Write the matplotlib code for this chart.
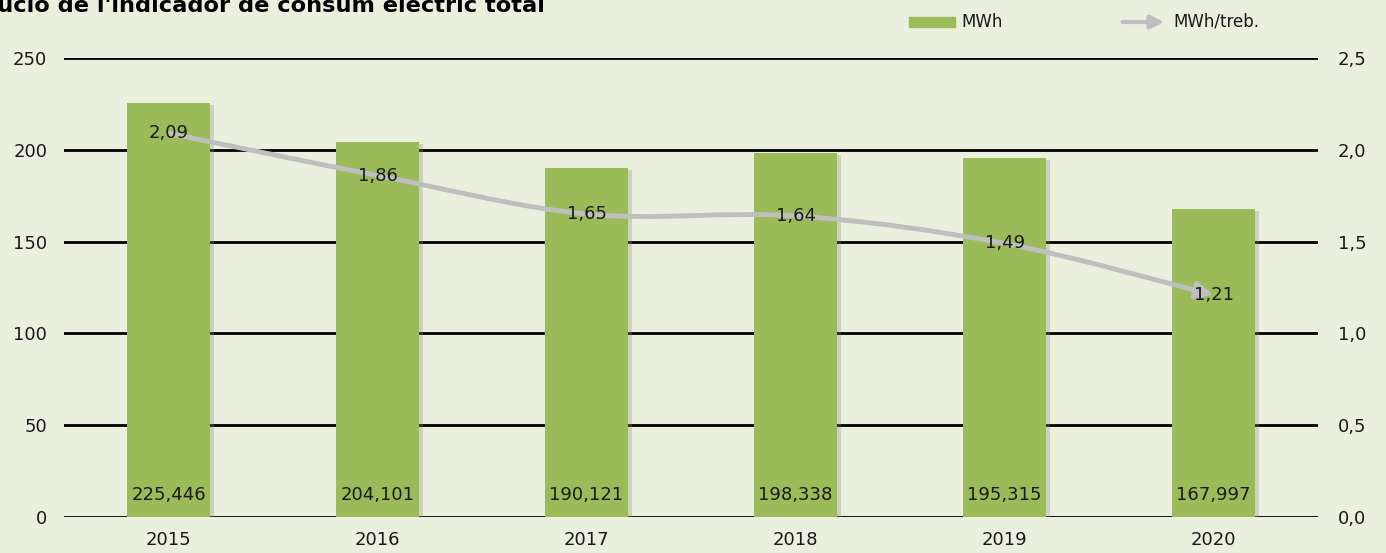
import matplotlib
matplotlib.use("Agg")
import matplotlib.pyplot as plt
from matplotlib.path import Path
from matplotlib.patches import FancyArrowPatch, Rectangle
import matplotlib.patheffects as pe

# Dades
anys = ["2015", "2016", "2017", "2018", "2019", "2020"]
mwh = [225.446, 204.101, 190.121, 198.338, 195.315, 167.997]
mwh_treb = [2.09, 1.86, 1.65, 1.64, 1.49, 1.21]
ticks_esq = [0, 50, 100, 150, 200, 250]
ticks_dre = [0.0, 0.5, 1.0, 1.5, 2.0, 2.5]

FONS = "#EBF0DE"
VERD = "#9BBB59"
GRIS = "#BFBFBF"
TEXT = "#1a1a1a"

fig = plt.figure(figsize=(13.86, 5.53), dpi=100, facecolor=FONS)
ax = fig.add_axes([0.0462, 0.0651, 0.9048, 0.83])
ax.set_facecolor(FONS)
x = list(range(len(anys)))

# barres amb ombra
barres = ax.bar(x, mwh, width=0.4, color=VERD, zorder=2)
for b in barres:
    b.set_path_effects([pe.SimplePatchShadow(offset=(2.5, -1.5), shadow_rgbFace="#8a8a8a", alpha=0.3), pe.Normal()])

ax.set_xlim(-0.5, 5.5)
ax.set_ylim(0, 250)
ax.set_yticks(ticks_esq)
ax.set_yticklabels([str(t) for t in ticks_esq], fontsize=13, color=TEXT)
ax.set_xticks(x)
ax.set_xticklabels(anys, fontsize=13, color=TEXT)
ax.tick_params(length=0, pad=10)
ax.tick_params(axis="y", pad=12)
for s in ax.spines.values():
    s.set_visible(False)
ax.set_axisbelow(True)
ax.grid(axis="y", color="black", lw=2)
ax.grid(axis="x", visible=False)

for xi, v in zip(x, mwh):
    ax.text(xi, 7, f"{v:.3f}".replace(".", ","), ha="center", va="bottom",
            fontsize=13, color=TEXT, zorder=5)

# eix dret
ax2 = ax.twinx()
ax2.set_ylim(0, 2.5)
ax2.set_yticks(ticks_dre)
ax2.set_yticklabels([f"{t:.1f}".replace(".", ",") for t in ticks_dre], fontsize=13, color=TEXT)
ax2.tick_params(length=0, pad=14)
for s in ax2.spines.values():
    s.set_visible(False)

# línia suavitzada (Catmull-Rom -> Bezier)
pts = list(zip(x, mwh_treb))
verts = [pts[0]]
codes = [Path.MOVETO]
n = len(pts)
for i in range(n - 1):
    p0 = pts[i - 1] if i > 0 else pts[i]
    p1 = pts[i]
    p2 = pts[i + 1]
    p3 = pts[i + 2] if i + 2 < n else pts[i + 1]
    c1 = (p1[0] + (p2[0] - p0[0]) / 6, p1[1] + (p2[1] - p0[1]) / 6)
    c2 = (p2[0] - (p3[0] - p1[0]) / 6, p2[1] - (p3[1] - p1[1]) / 6)
    verts += [c1, c2, p2]
    codes += [Path.CURVE4] * 3
fletxa = FancyArrowPatch(path=Path(verts, codes), arrowstyle="-|>,head_length=0.5,head_width=0.25",
                         mutation_scale=20, color=GRIS, lw=3.5, transform=ax2.transData, zorder=3)
ax2.add_patch(fletxa)

for xi, v in zip(x, mwh_treb):
    ax2.text(xi, v, f"{v:.2f}".replace(".", ","), ha="center", va="center",
             fontsize=13, color=TEXT, zorder=5)

# títol (tallat a l'esquerra i a dalt, com a l'original)
fig.text(545 / 1386, 1 - 12 / 553, "Evolució de l'indicador de consum elèctric total",
         ha="right", va="baseline", fontsize=16.2, fontweight="bold", color="black")

# llegenda
fig.patches.append(Rectangle((909 / 1386, 1 - 27 / 553), 46 / 1386, 10 / 553,
                             transform=fig.transFigure, color=VERD))
fig.text(961 / 1386, 1 - 22 / 553, "MWh", ha="left", va="center", fontsize=12, color=TEXT)
fig.patches.append(FancyArrowPatch((1120 / 1386, 1 - 22 / 553), (1167 / 1386, 1 - 22 / 553),
                                   transform=fig.transFigure, arrowstyle="-|>,head_length=0.5,head_width=0.25",
                                   mutation_scale=16, color=GRIS, lw=3))
fig.text(1173 / 1386, 1 - 22 / 553, "MWh/treb.", ha="left", va="center", fontsize=12, color=TEXT)

fig.savefig("out.png", dpi=100, facecolor=FONS)
